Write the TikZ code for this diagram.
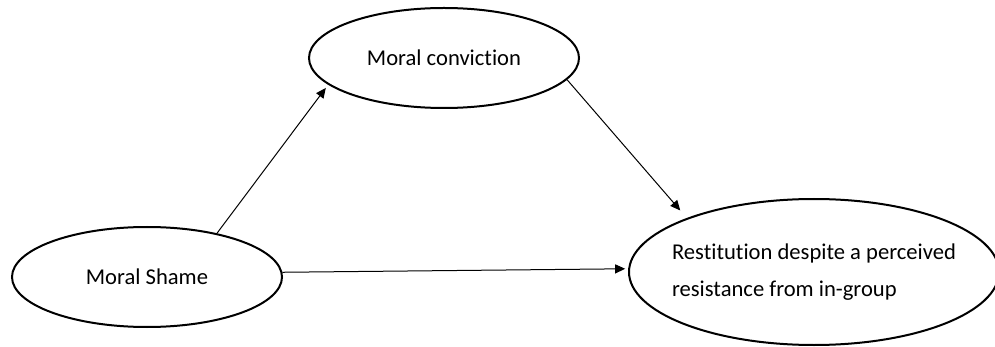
\documentclass[tikz,border=0pt]{standalone}
\usepackage{fontspec}
\setmainfont{Carlito}[Ligatures=NoCommon]
\usetikzlibrary{arrows.meta, shapes.geometric}
\begin{document}
\begin{tikzpicture}[x=0.5pt, y=-0.5pt, line width=0.5pt,
    var/.style = {draw, ellipse, line width=1pt, inner sep=0pt, font=\fontsize{11.3}{18.5}\selectfont},
    link/.style = {-{Triangle[length=5pt, width=4.5pt]}}]
  \useasboundingbox (0,0) rectangle (995,347);
  \node[var, minimum width=135pt, minimum height=50pt] (shame) at (147,277) {Moral Shame};
  \node[var, minimum width=135pt, minimum height=50pt] (conv) at (444,58) {Moral conviction};
  \node[var, minimum width=185pt, minimum height=73pt, inner xsep=-8pt, align=left] (rest) at (814,272) {Restitution despite a perceived\\resistance from in-group};
  \draw[link, shorten >=2pt] (shame.32) -- (conv.193);
  \draw[link, shorten >=5pt] (conv.-10) -- (rest.157);
  \draw[link, shorten >=1.5pt] (shame.2) -- (rest.179);
\end{tikzpicture}
\end{document}
